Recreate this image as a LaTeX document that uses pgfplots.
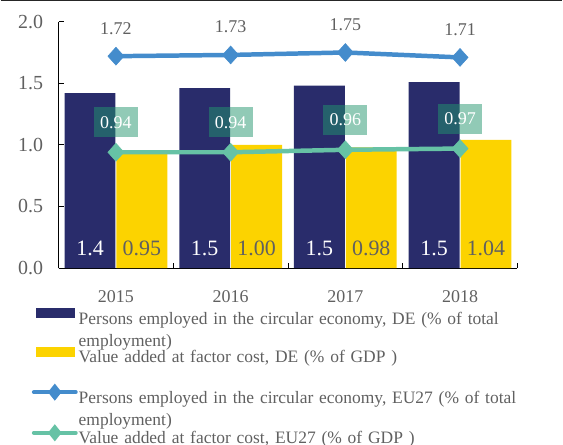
\documentclass[border=0pt]{standalone}
\usepackage{fontspec}
\setmainfont{Liberation Serif}
\usepackage{pgfplots}
\pgfplotsset{compat=1.18}
\definecolor{navy}{RGB}{41,44,107}
\definecolor{gold}{RGB}{252,211,0}
\definecolor{lineblue}{RGB}{68,140,204}
\definecolor{tealline}{RGB}{102,194,165}
\definecolor{boxteal}{RGB}{35,150,110}
\definecolor{txt}{RGB}{96,96,96}

\begin{document}
\begin{tikzpicture}
\begin{axis}[
  name=main,
  width=460pt, height=247pt, scale only axis,
  xmin=-0.5, xmax=3.5, ymin=0, ymax=2,
  axis x line*=bottom, axis y line*=left,
  axis line style={black, line width=0.8pt, -},
  xtick={0,1,2,3}, xticklabels={2015,2016,2017,2018},
  minor xtick={0.5,1.5,2.5,3.5},
  major x tick style={draw=none},
  minor x tick style={black, line width=0.8pt},
  minor tick length=5pt,
  ytick={0,0.5,1,1.5,2},
  major tick length=5pt,
  tick align=inside,
  y tick style={black, line width=0.8pt},
  /pgf/number format/assume math mode=true,
  yticklabel style={font=\fontsize{20}{20}\selectfont, text=txt, anchor=east, xshift=-12pt,
    /pgf/number format/fixed, /pgf/number format/fixed zerofill, /pgf/number format/precision=1},
  xticklabel style={font=\fontsize{18}{18}\selectfont, text=txt, yshift=-19pt},
  legend style={at={(0,0)}, anchor=north west, xshift=-27pt, yshift=-40pt,
    draw=none, fill=none, inner sep=0pt, row sep=21.5pt, column sep=0pt,
    font=\fontsize{17.5}{22}\selectfont, text=txt,
    nodes={text width=478pt, align=left, text height=12pt, text depth=0pt, inner sep=1pt}},
  legend cell align=left,
]
\addplot[ybar, bar width=51pt, bar shift=-26pt, fill=navy, draw=none,
  legend image code/.code={\fill[navy] (0pt,0pt) rectangle (39pt,10pt);},
  visualization depends on={rawy \as \rawy},
  nodes near coords, point meta=y,
  every node near coord/.append style={anchor=center, xshift=-26pt, yshift={20pt-\rawy*123.5pt},
    font=\fontsize{22}{22}\selectfont, text=white,
    /pgf/number format/fixed, /pgf/number format/precision=1}]
  coordinates {(0,1.42) (1,1.46) (2,1.48) (3,1.51)};
\addlegendentry{Persons employed in the circular economy, DE (\% of total\\employment)}

\addplot[ybar, bar width=51pt, bar shift=26pt, fill=gold, draw=none,
  legend image code/.code={\fill[gold] (0pt,0pt) rectangle (39pt,10pt);},
  visualization depends on={rawy \as \rawy},
  nodes near coords, point meta=y,
  every node near coord/.append style={anchor=center, xshift=26pt, yshift={20pt-\rawy*123.5pt},
    font=\fontsize{22}{22}\selectfont, text=txt,
    /pgf/number format/fixed, /pgf/number format/fixed zerofill, /pgf/number format/precision=2}]
  coordinates {(0,0.95) (1,1.00) (2,0.98) (3,1.04)};
\addlegendentry{Value added at factor cost, DE (\% of GDP )}

\addplot[lineblue, line width=4.5pt, mark=diamond*, mark size=9pt,
  mark options={solid, xscale=1.2, line width=0.5pt},
  legend image code/.code={\draw[lineblue, line width=4pt, line cap=round] (-2pt,5pt) -- (40pt,5pt);
    \fill[lineblue] (19pt,0pt) -- (23pt,5pt) -- (19pt,10pt) -- (15pt,5pt) -- cycle;},
  nodes near coords, point meta=y,
  every node near coord/.append style={anchor=center, yshift=28pt,
    font=\fontsize{18}{18}\selectfont, text=txt,
    /pgf/number format/fixed, /pgf/number format/fixed zerofill, /pgf/number format/precision=2}]
  coordinates {(0,1.72) (1,1.73) (2,1.75) (3,1.71)};
\addlegendentry{Persons employed in the circular economy, EU27 (\% of total\\employment)}

\addplot[tealline, line width=4.5pt, mark=diamond*, mark size=9pt,
  mark options={solid, xscale=1.2, line width=0.5pt},
  legend image code/.code={\draw[tealline, line width=4pt, line cap=round] (-2pt,5pt) -- (40pt,5pt);
    \fill[tealline] (19pt,0pt) -- (23pt,5pt) -- (19pt,10pt) -- (15pt,5pt) -- cycle;},
  nodes near coords, point meta=y,
  every node near coord/.append style={anchor=center, yshift=30pt,
    font=\fontsize{18}{18}\selectfont, text=white, fill=boxteal, fill opacity=0.5, text opacity=1,
    minimum width=44pt, minimum height=30pt, inner sep=0pt,
    /pgf/number format/fixed, /pgf/number format/fixed zerofill, /pgf/number format/precision=2}]
  coordinates {(0,0.94) (1,0.94) (2,0.96) (3,0.97)};
\addlegendentry{Value added at factor cost, EU27 (\% of GDP )}
\end{axis}
\draw[line width=1.5pt, black!85] ([xshift=-58pt, yshift=21pt]main.north west) -- ++(563pt,0pt);
\end{tikzpicture}
\end{document}
